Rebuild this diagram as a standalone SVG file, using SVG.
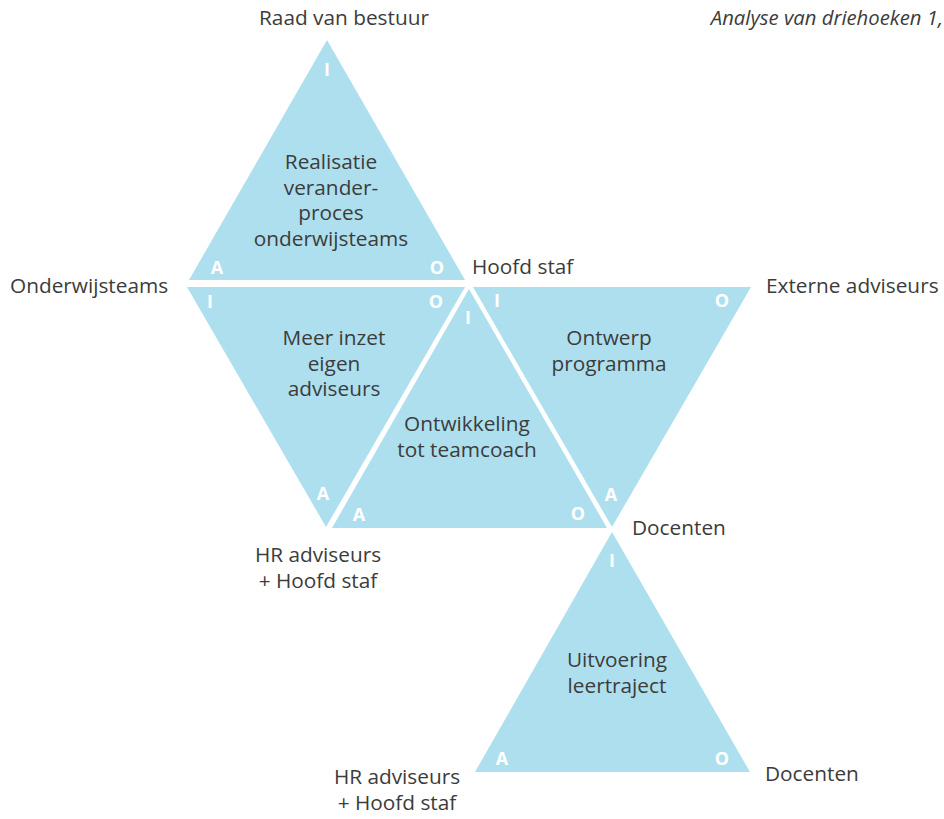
<svg xmlns="http://www.w3.org/2000/svg" width="944" height="819" viewBox="0 0 944 819">
  <style>
    .tri { fill: #addfef; }
    .txt { font-family: "Open Sans", "Noto Sans", "Liberation Sans", sans-serif; font-size: 20.8px; fill: #3c3c3b; text-anchor: middle; }
    .ext { font-family: "Open Sans", "Noto Sans", "Liberation Sans", sans-serif; font-size: 20.8px; fill: #3c3c3b; }
    .cap { font-family: "Open Sans", "Noto Sans", "Liberation Sans", sans-serif; font-size: 18px; font-weight: bold; fill: #ffffff; text-anchor: middle; }
    .ttl { font-family: "Open Sans", "Noto Sans", "Liberation Sans", sans-serif; font-size: 20.3px; font-style: italic; fill: #3c3c3b; text-anchor: end; }
  </style>

  <text class="ttl" x="943" y="25">Analyse van driehoeken 1,</text>

  <!-- Raad van bestuur triangle -->
  <g id="realisatie">
    <polygon class="tri" points="327,40 465,280 189,280"/>
    <text class="txt" x="331" y="169">Realisatie</text>
    <text class="txt" x="331" y="194.5">verander-</text>
    <text class="txt" x="331" y="220">proces</text>
    <text class="txt" x="331" y="245.5">onderwijsteams</text>
    <text class="cap" x="327" y="76">I</text>
    <text class="cap" x="217" y="274">A</text>
    <text class="cap" x="437" y="274">O</text>
  </g>

  <!-- Onderwijsteams triangle -->
  <g id="meer-inzet">
    <polygon class="tri" points="187,287 465,287 326,527"/>
    <text class="txt" x="334" y="345">Meer inzet</text>
    <text class="txt" x="334" y="370.5">eigen</text>
    <text class="txt" x="334" y="396">adviseurs</text>
    <text class="cap" x="210" y="308">I</text>
    <text class="cap" x="436" y="308">O</text>
    <text class="cap" x="323" y="500">A</text>
  </g>

  <!-- Hoofd staf triangle -->
  <g id="ontwikkeling">
    <polygon class="tri" points="469,289 607,528 332,528"/>
    <text class="txt" x="467" y="431">Ontwikkeling</text>
    <text class="txt" x="467" y="456.5">tot teamcoach</text>
    <text class="cap" x="468" y="324">I</text>
    <text class="cap" x="359" y="521">A</text>
    <text class="cap" x="578" y="520">O</text>
  </g>

  <!-- Externe adviseurs triangle -->
  <g id="ontwerp">
    <polygon class="tri" points="473,287 751,287 612,527"/>
    <text class="txt" x="609" y="345">Ontwerp</text>
    <text class="txt" x="609" y="370.5">programma</text>
    <text class="cap" x="497" y="307">I</text>
    <text class="cap" x="722" y="307">O</text>
    <text class="cap" x="611" y="501">A</text>
  </g>

  <!-- Docenten triangle -->
  <g id="uitvoering">
    <polygon class="tri" points="612,532 750,772 475,772"/>
    <text class="txt" x="617" y="667">Uitvoering</text>
    <text class="txt" x="617" y="692.5">leertraject</text>
    <text class="cap" x="612" y="567">I</text>
    <text class="cap" x="502" y="765">A</text>
    <text class="cap" x="722" y="765">O</text>
  </g>

  <!-- corner actors -->
  <g id="actors">
    <text class="ext" x="344" y="25" text-anchor="middle">Raad van bestuur</text>
    <text class="ext" x="10" y="293">Onderwijsteams</text>
    <text class="ext" x="472" y="274">Hoofd staf</text>
    <text class="ext" x="766" y="293">Externe adviseurs</text>
    <text class="ext" x="632" y="535">Docenten</text>
    <text class="ext" x="318" y="562" text-anchor="middle">HR adviseurs</text>
    <text class="ext" x="318" y="588" text-anchor="middle">+ Hoofd staf</text>
    <text class="ext" x="397" y="784" text-anchor="middle">HR adviseurs</text>
    <text class="ext" x="397" y="810" text-anchor="middle">+ Hoofd staf</text>
    <text class="ext" x="765" y="781">Docenten</text>
  </g>
</svg>
